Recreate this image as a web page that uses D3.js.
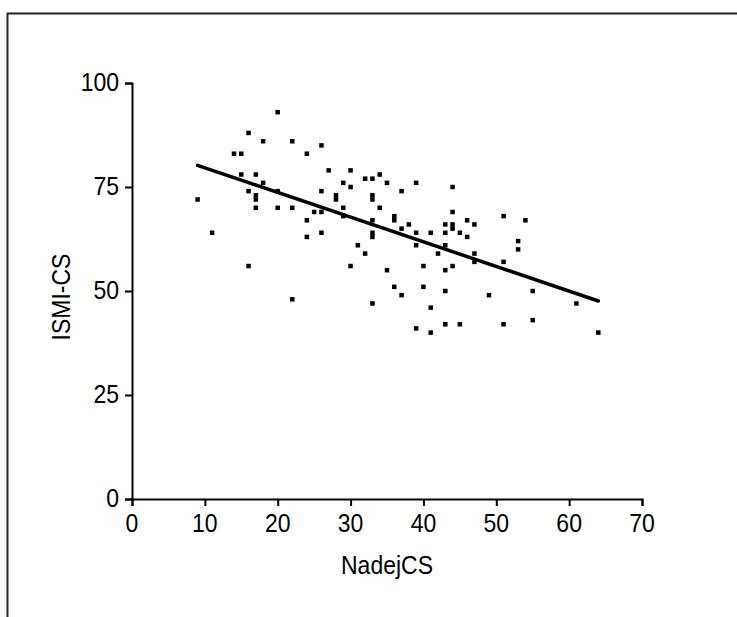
<!DOCTYPE html>
<html><head><meta charset="utf-8">
<script src="https://cdn.jsdelivr.net/npm/d3@7/dist/d3.min.js"></script>
<style>body{margin:0;background:#fff;}svg{display:block;}</style>
</head><body>
<svg id="chart" width="737" height="617"></svg>
<script>
const nadejCS = [9,11,14,15,15,16,16,16,17,17,17,17,18,18,20,20,20,22,22,22,24,24,24,25,26,26,26,26,27,28,28,29,29,29,30,30,30,31,32,32,33,33,33,33,33,33,33,34,34,35,35,36,36,36,37,37,37,38,39,39,39,39,40,40,41,41,41,42,43,43,43,43,43,43,44,44,44,44,44,45,45,46,46,47,47,47,49,51,51,51,53,53,54,55,55,61,64];
const ismiCS  = [72,64,83,83,78,88,74,56,78,73,72,70,86,76,93,74,70,86,70,48,83,67,63,69,85,74,69,64,79,73,72,76,70,68,79,75,56,61,77,59,77,73,72,67,64,63,47,78,70,76,55,68,67,51,74,65,49,66,76,64,61,41,56,51,64,46,40,59,66,64,61,55,50,42,75,69,66,65,56,64,42,67,63,66,59,57,49,68,57,42,62,60,67,50,43,47,40];
const fitX = [9, 64];
const fitY = [80.2, 47.6];
const xTicks = [0,10,20,30,40,50,60,70];
const yTicks = [0,25,50,75,100];

const svg = d3.select("#chart");
const font = "'Liberation Sans', Arial, sans-serif";
const fs = 23, stretch = 1.1;

// frame
svg.append("path").attr("d","M7.5,617 L7.5,13.5 L737,13.5")
  .attr("fill","none").attr("stroke","#222").attr("stroke-width",2);

const x = d3.scaleLinear().domain([0,70]).range([132,642]);
const y = d3.scaleLinear().domain([0,100]).range([499,83]);

const xAxis = svg.append("g").attr("transform","translate(0,499)")
  .call(d3.axisBottom(x).tickValues(xTicks).tickSize(7).tickFormat(""));
const yAxis = svg.append("g").attr("transform","translate(132,0)")
  .call(d3.axisLeft(y).tickValues(yTicks).tickSize(7).tickFormat(""));
[xAxis,yAxis].forEach(a=>{
  a.select(".domain").attr("stroke","#000").attr("stroke-width",2);
  a.selectAll(".tick line").attr("stroke","#000").attr("stroke-width",2);
});

function label(g, tx, ty, txt, anchor, rot){
  const t = g.append("g").attr("transform",`translate(${tx},${ty})${rot?` rotate(${rot})`:""} scale(1,${stretch})`);
  t.append("text").attr("text-anchor",anchor).attr("font-family",font)
    .attr("font-size",fs).attr("fill","#000").text(txt);
}
const lab = svg.append("g");
xTicks.forEach(v=>label(lab, x(v), 532, String(v), "middle"));
yTicks.forEach(v=>label(lab, 119, y(v)+7.5, String(v), "end"));

// points
const pts = nadejCS.map((v,i)=>({x:v,y:ismiCS[i]}));
const s = 4.5;
svg.append("g").selectAll("rect").data(pts).join("rect")
  .attr("x",d=>x(d.x)-s/2).attr("y",d=>y(d.y)-s/2)
  .attr("width",s).attr("height",s).attr("fill","#000");

// fit line
svg.append("line")
  .attr("x1",x(fitX[0])).attr("y1",y(fitY[0]))
  .attr("x2",x(fitX[1])).attr("y2",y(fitY[1]))
  .attr("stroke","#000").attr("stroke-width",3.5).attr("stroke-linecap","round");

// titles
label(svg, 387, 574, "NadejCS", "middle");
label(svg, 70, 297, "ISMI-CS", "middle", -90);
</script>
</body></html>
